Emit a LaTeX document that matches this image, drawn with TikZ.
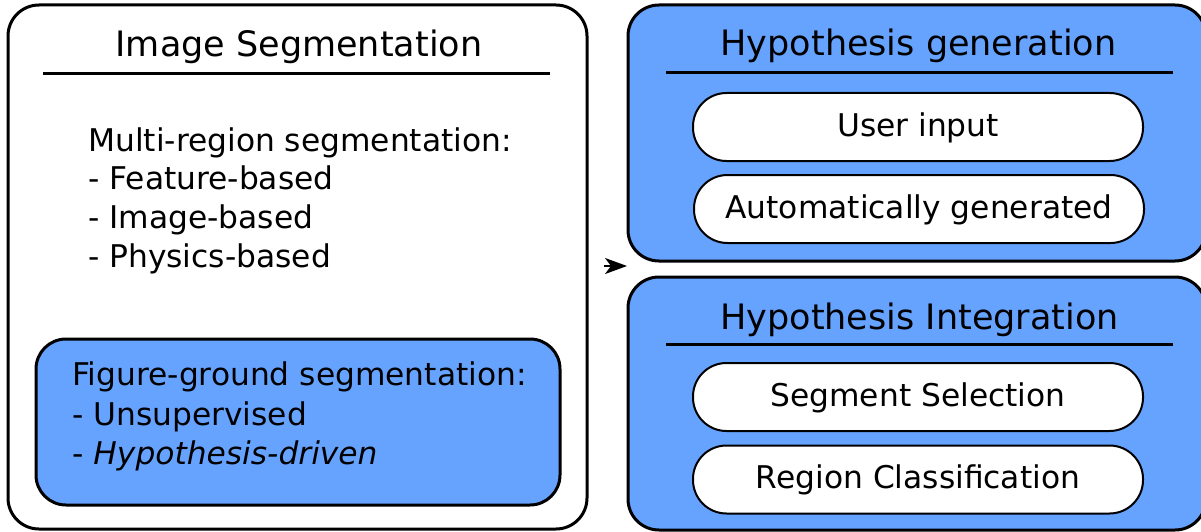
\documentclass[tikz,border=0pt]{standalone}
\usepackage{fontspec}
\setmainfont{DejaVu Sans}
\usetikzlibrary{arrows.meta}
\definecolor{panelblue}{RGB}{102,163,255}
\newcommand\titlesize{\fontsize{35}{42}\selectfont}
\newcommand\bodysize{\fontsize{31.3}{39}\selectfont}

\begin{document}
\begin{tikzpicture}[x=1pt, y=-1pt,
  panel/.style={draw, line width=3pt, rounded corners=31pt, inner sep=0pt},
  bluepanel/.style={panel, fill=panelblue},
  heading/.style={anchor=base, inner sep=0pt, font=\titlesize},
  line/.style={anchor=base west, inner sep=0pt, font=\bodysize},
  rule/.style={line width=3pt},
  pill/.style={draw, fill=white, line width=2pt, rounded corners=33.5pt,
    minimum width=450pt, minimum height=68pt, inner sep=0pt,
    text height=22.8pt, text depth=4pt, font=\bodysize},
  link/.style={line width=2pt, -{Stealth[length=22pt, width=16pt, inset=6pt]}}]
\useasboundingbox (0,0) rectangle (1201,532);

% left panel: image segmentation
\node[panel, minimum width=579pt, minimum height=524pt] (seg) at (297.5,267) {};
\node[heading] (segtitle) at (299,57) {Image Segmentation};
\draw[rule] (43,74) -- (550,74);
\node[line] (multi) at (88,151) {Multi-region segmentation:};
\node[line] (feat) at (88,189.5) {- Feature-based};
\node[line] (img) at (88,228) {- Image-based};
\node[line] (phys) at (88,267) {- Physics-based};

\node[bluepanel, rounded corners=30pt, minimum width=524pt, minimum height=166pt] (fg) at (298,422) {};
\node[line] (fgtitle) at (72,385) {Figure-ground segmentation:};
\node[line] (unsup) at (72,425) {- Unsupervised};
\node[line] (hyp) at (72,464) {- \textit{Hypothesis-driven}};

% right panels
\node[bluepanel, minimum width=578pt, minimum height=256pt] (gen) at (917,133) {};
\node[heading] (gentitle) at (918.5,56) {Hypothesis generation};
\draw[rule] (666,73) -- (1173,73);
\node[pill] (user) at (918,127) {User input};
\node[pill] (auto) at (919,209) {Automatically generated};

\node[bluepanel, minimum width=578pt, minimum height=253pt] (integ) at (917,403.5) {};
\node[heading] (integtitle) at (919.5,329) {Hypothesis Integration};
\draw[rule] (666,344) -- (1173,344);
\node[pill] (select) at (918,397) {Segment Selection};
\node[pill] (classify) at (918,479.5) {Region Classification};

% connector from the segmentation panel towards the hypothesis panels
\coordinate (gap) at (627,266);
\draw[link, shorten <=15pt] (seg.east |- gap) -- (gap);
\end{tikzpicture}
\end{document}
